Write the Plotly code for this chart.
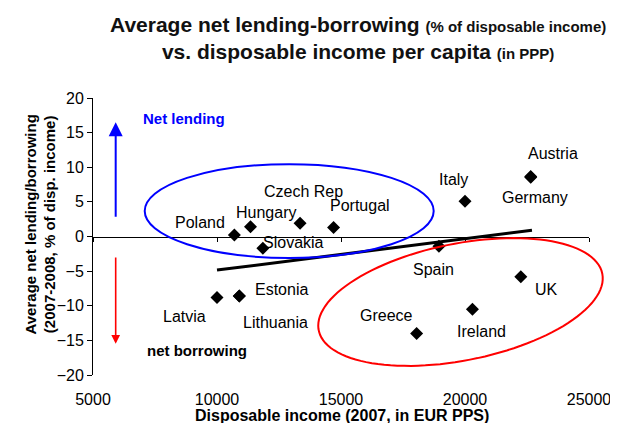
import numpy as np
import plotly.graph_objects as go

# ---------------- data ----------------
countries = ["Poland", "Hungary", "Czech Rep", "Slovakia", "Portugal", "Italy",
             "Austria", "Germany", "Spain", "UK", "Ireland", "Greece",
             "Latvia", "Estonia", "Lithuania"]
income = [10700, 11350, 13350, 11850, 14700, 20000,
          22650, 22650, 18950, 22250, 20300, 18050,
          10000, 10900, 10900]
lending = [0.2, 1.4, 1.9, -1.7, 1.3, 5.1,
           8.65, 8.55, -1.4, -5.8, -10.5, -14.0,
           -8.8, -8.6, -8.6]
trend_x = [10000, 22700]
trend_y = [-4.85, 0.9]
x_ticks = [5000, 10000, 15000, 20000, 25000]
x_tick_labels = ["5000", "10000", "15000", "20000", "25000"]
y_ticks = [-20, -15, -10, -5, 0, 5, 10, 15, 20]

# label offsets in pixels (dx right, dy up)
label_offsets = {
    "Poland": (-34, 13), "Hungary": (16, 14), "Czech Rep": (3, 32),
    "Slovakia": (31, 6), "Portugal": (26, 22), "Italy": (-12, 22),
    "Austria": (22, 23), "Germany": (4, -20), "Spain": (-5, -23),
    "UK": (26, -13), "Ireland": (9, -22), "Greece": (-30, 18),
    "Latvia": (-33, -19), "Estonia": (42, 7), "Lithuania": (36, -26),
}

# page body margin (8px) is compensated by a slightly smaller figure
OFF = 8
XR = [5000, 25000]
YR = [-20, 20]
W, H = 618 - OFF, 423 - OFF
ML, MR, MT, MB = 93 - OFF, 29, 98 - OFF, 48
PW, PH = W - ML - MR, H - MT - MB
FONT = "Liberation Sans, Arial, sans-serif"

fig = go.Figure()

fig.add_trace(go.Scatter(x=trend_x, y=trend_y, mode="lines",
                         line=dict(color="black", width=3), hoverinfo="skip",
                         showlegend=False))
fig.add_trace(go.Scatter(x=income, y=lending, mode="markers", text=countries,
                         marker=dict(symbol="diamond", size=10, color="black"),
                         showlegend=False))
# invisible helper trace for the zero-crossing axis
fig.add_trace(go.Scatter(x=income, y=lending, mode="markers", xaxis="x2",
                         marker=dict(opacity=0), hoverinfo="skip",
                         showlegend=False))

for c, x, y in zip(countries, income, lending):
    dx, dy = label_offsets[c]
    fig.add_annotation(x=x, y=y, xref="x", yref="y", text=c, showarrow=False,
                       xshift=dx, yshift=dy, xanchor="center", yanchor="middle",
                       font=dict(family=FONT, size=16, color="black"))

# ellipses
blue_box = dict(x0=7085, x1=18738, y0=-3.1, y1=10.45)
fig.add_shape(type="circle", xref="x", yref="y", **blue_box,
              line=dict(color="#0000FF", width=2))

def to_paper(px, py):
    return (px - OFF - ML) / PW, (H - MB - (py - OFF)) / PH

cx_px, cy_px = 460.5, 302.0
a_px, b_px, th = 144.6, 58.4, np.deg2rad(11.3)
t = np.linspace(0, 2 * np.pi, 120)
ex = cx_px + a_px * np.cos(t) * np.cos(th) - b_px * np.sin(t) * np.sin(th)
ey = cy_px - (a_px * np.cos(t) * np.sin(th) + b_px * np.sin(t) * np.cos(th))
pts = [to_paper(px, py) for px, py in zip(ex, ey)]
path = "M " + " L ".join(f"{p[0]:.4f},{p[1]:.4f}" for p in pts) + " Z"
fig.add_shape(type="path", xref="paper", yref="paper", path=path,
              line=dict(color="#FF0000", width=2))

# arrows
fig.add_annotation(x=5915, y=16.5, ax=5915, ay=2.65, xref="x", yref="y",
                   axref="x", ayref="y", showarrow=True, arrowhead=2,
                   arrowsize=1.4, arrowwidth=2, arrowcolor="#0000FF", text="")
fig.add_annotation(x=5915, y=-15.5, ax=5915, ay=-2.83, xref="x", yref="y",
                   axref="x", ayref="y", showarrow=True, arrowhead=2,
                   arrowsize=1.1, arrowwidth=1.6, arrowcolor="#FF0000", text="")

fig.add_annotation(x=8657, y=17.1, xref="x", yref="y", text="<b>Net lending</b>",
                   showarrow=False, font=dict(family=FONT, size=15, color="#0000FF"))
fig.add_annotation(x=9202, y=-16.4, xref="x", yref="y", text="<b>net borrowing</b>",
                   showarrow=False, font=dict(family=FONT, size=15, color="black"))

# title
tx, ty = to_paper(358, 38)
fig.add_annotation(
    xref="paper", yref="paper", x=tx, y=ty,
    xanchor="center", yanchor="middle", showarrow=False, align="center",
    text="<b>Average net lending-borrowing <span style='font-size:15px'>(% of disposable income)</span></b>"
         "<br><b>vs. disposable income per capita <span style='font-size:15px'>(in PPP)</span></b>",
    font=dict(family=FONT, size=21, color="#111111"))

# axis titles
xt, yt = to_paper(342, 416)
fig.add_annotation(xref="paper", yref="paper", x=xt, y=yt,
                   xanchor="center", yanchor="middle", showarrow=False,
                   text="<b>Disposable income (2007, in EUR PPS)</b>",
                   font=dict(family=FONT, size=16, color="black"))
yx, yy = to_paper(60, 225)
fig.add_annotation(xref="paper", yref="paper", x=yx, y=yy,
                   xanchor="right", yanchor="middle", showarrow=False,
                   textangle=-90, align="center",
                   text="<b>Average net lending/borrowing<br>(2007-2008, % of disp. income)</b>",
                   font=dict(family=FONT, size=15, color="black"))

fig.update_layout(
    width=W, height=H,
    margin=dict(l=ML, r=MR, t=MT, b=MB, autoexpand=False),
    paper_bgcolor="white", plot_bgcolor="white",
    font=dict(family=FONT, size=16, color="black"),
    xaxis=dict(range=XR, tickvals=x_ticks, ticktext=x_tick_labels,
               showline=False, showgrid=False, automargin=False,
               zeroline=False, ticks="outside", ticklen=10,
               tickcolor="rgba(0,0,0,0)", tickfont=dict(size=16)),
    xaxis2=dict(range=XR, overlaying="x", anchor="free", position=0.5,
                tickvals=x_ticks, showticklabels=False, showline=True,
                linecolor="black", linewidth=1, ticks="outside", ticklen=4,
                tickcolor="black", showgrid=False, zeroline=False),
    yaxis=dict(range=YR, tickvals=y_ticks, showline=True, linecolor="black",
               linewidth=1, ticks="outside", ticklen=5, tickcolor="black",
               showgrid=False, zeroline=False, automargin=False,
               tickfont=dict(size=16)),
    showlegend=False,
)

fig.write_html("out.html")
